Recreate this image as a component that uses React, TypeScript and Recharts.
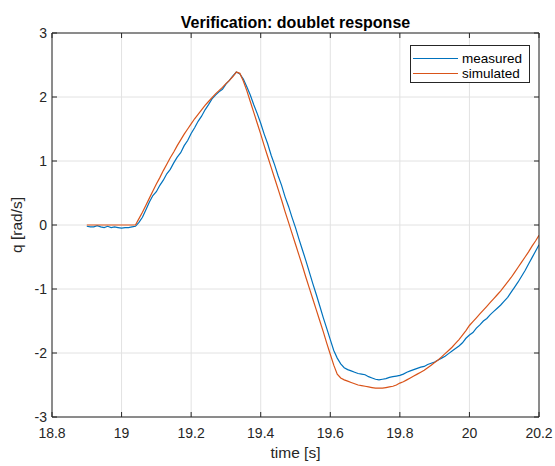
import React from "react";
import { LineChart, Line, XAxis, YAxis, CartesianGrid, Legend } from "recharts";

// sampling of both signals: 18.90 s .. 20.20 s, 0.01 s step
const T0 = 18.9;
const DT = 0.01;

// q [rad/s], one row per 0.1 s
const measured = [
  -0.02, -0.03, -0.03, -0.01, -0.03, -0.04, -0.02, -0.04, -0.03, -0.04,
  -0.05, -0.04, -0.04, -0.03, -0.02, 0.04, 0.12, 0.24, 0.36, 0.46,
  0.52, 0.62, 0.7, 0.8, 0.87, 0.97, 1.06, 1.13, 1.24, 1.32,
  1.43, 1.52, 1.62, 1.7, 1.8, 1.88, 1.97, 2.03, 2.08, 2.12,
  2.2, 2.26, 2.33, 2.39, 2.36, 2.28, 2.16, 2.03, 1.88, 1.74,
  1.59, 1.42, 1.27, 1.09, 0.94, 0.77, 0.62, 0.44, 0.29, 0.12,
  -0.04, -0.22, -0.39, -0.56, -0.74, -0.92, -1.09, -1.27, -1.45, -1.62,
  -1.79, -1.96, -2.08, -2.17, -2.23, -2.26, -2.28, -2.3, -2.32, -2.33,
  -2.34, -2.37, -2.39, -2.41, -2.42, -2.41, -2.4, -2.38, -2.37, -2.36,
  -2.35, -2.33, -2.3, -2.28, -2.26, -2.24, -2.22, -2.21, -2.18, -2.16,
  -2.14, -2.11, -2.08, -2.05, -2.01, -1.97, -1.93, -1.89, -1.84, -1.77,
  -1.72, -1.68, -1.61, -1.56, -1.5, -1.46, -1.4, -1.35, -1.3, -1.25,
  -1.19, -1.13, -1.05, -0.97, -0.89, -0.8, -0.71, -0.61, -0.51, -0.41,
  -0.31,
];

const simulated = [
  0, 0, 0, 0, 0, 0, 0, 0, 0, 0,
  0, 0, 0, 0, 0, 0.1, 0.2, 0.31, 0.42, 0.53,
  0.64, 0.74, 0.85, 0.95, 1.05, 1.14, 1.24, 1.33, 1.42, 1.5,
  1.58, 1.66, 1.73, 1.8, 1.87, 1.93, 1.99, 2.05, 2.1, 2.15,
  2.21, 2.26, 2.32, 2.39, 2.37, 2.25, 2.1, 1.93, 1.76, 1.59,
  1.42, 1.24, 1.07, 0.9, 0.73, 0.56, 0.39, 0.21, 0.04, -0.13,
  -0.3, -0.47, -0.64, -0.82, -0.99, -1.16, -1.33, -1.5, -1.67, -1.85,
  -2.02, -2.19, -2.33, -2.39, -2.42, -2.44, -2.46, -2.48, -2.5, -2.51,
  -2.52, -2.53, -2.54, -2.55, -2.55, -2.55, -2.54, -2.53, -2.52, -2.5,
  -2.47, -2.45, -2.42, -2.39, -2.36, -2.33, -2.3, -2.27, -2.23, -2.19,
  -2.15, -2.11, -2.06, -2.01, -1.96, -1.91, -1.85, -1.79, -1.72, -1.65,
  -1.57, -1.51, -1.45, -1.39, -1.33, -1.27, -1.21, -1.15, -1.09, -1.03,
  -0.96, -0.89, -0.82, -0.74, -0.66, -0.58, -0.5, -0.42, -0.33, -0.25,
  -0.16,
];

const xTicks = [18.8, 19, 19.2, 19.4, 19.6, 19.8, 20, 20.2];
const yTicks = [-3, -2, -1, 0, 1, 2, 3];

const data = measured.map((m, i) => ({
  t: Math.round((T0 + i * DT) * 100) / 100,
  measured: m,
  simulated: simulated[i],
}));

const W = 555;
const H = 466;
// plot box in pixels
const L = 52;
const R = 539;
const T = 33;
const B = 417;

const FONT = "'Liberation Sans', Arial, Helvetica, sans-serif";
const INK = "#262626";
const GRID = "#e2e2e2";
const TL = 5; // inward tick length

const BottomTick = ({ x, y, payload }: any) => (
  <g>
    <line x1={x} y1={y} x2={x} y2={y - TL} stroke={INK} />
    <text x={x} y={y + 21} textAnchor="middle" fontSize={14} fill={INK} fontFamily={FONT}>
      {payload.value}
    </text>
  </g>
);

const LeftTick = ({ x, y, payload }: any) => (
  <g>
    <line x1={x} y1={y} x2={x + TL} y2={y} stroke={INK} />
    <text x={x - 5} y={y + 5} textAnchor="end" fontSize={14} fill={INK} fontFamily={FONT}>
      {payload.value}
    </text>
  </g>
);

const TopTick = ({ x, y }: any) => <line x1={x} y1={y} x2={x} y2={y + TL} stroke={INK} />;
const RightTick = ({ x, y }: any) => <line x1={x} y1={y} x2={x - TL} y2={y} stroke={INK} />;

const titleLabel = () => (
  <text x={(L + R) / 2} y={28} textAnchor="middle" fontSize={16} fontWeight="bold" fill="#000" fontFamily={FONT}>
    Verification: doublet response
  </text>
);

const xLabel = () => (
  <text x={(L + R) / 2} y={458} textAnchor="middle" fontSize={15.5} fill={INK} fontFamily={FONT}>
    time [s]
  </text>
);

const yLabel = () => (
  <text
    x={22}
    y={(T + B) / 2}
    transform={`rotate(-90 22 ${(T + B) / 2})`}
    textAnchor="middle"
    fontSize={15.5}
    fill={INK}
    fontFamily={FONT}
  >
    q [rad/s]
  </text>
);

const renderLegend = ({ payload }: any) => (
  <div
    style={{
      width: 120,
      height: 38,
      boxSizing: "border-box",
      border: `1px solid ${INK}`,
      background: "#fff",
      padding: "5px 0 0 2px",
      fontFamily: FONT,
      fontSize: 13.5,
      color: "#000",
    }}
  >
    {(payload || []).map((p: any) => (
      <div key={p.value} style={{ display: "flex", alignItems: "center", height: 15, lineHeight: "15px" }}>
        <span style={{ display: "inline-block", width: 45, borderTop: `1px solid ${p.color}` }} />
        <span style={{ marginLeft: 4 }}>{p.value}</span>
      </div>
    ))}
  </div>
);

export default function App() {
  return (
    <div style={{ position: "absolute", left: 0, top: 0, width: W, height: H, background: "#fff" }}>
      <LineChart width={W} height={H} data={data} margin={{ top: T - 1, right: W - R - 1, bottom: 0, left: 0 }}>
        <CartesianGrid stroke={GRID} horizontalValues={yTicks} verticalValues={xTicks} />
        <XAxis
          dataKey="t"
          type="number"
          domain={[18.8, 20.2]}
          ticks={xTicks}
          allowDataOverflow
          height={H - B}
          tickSize={0}
          tickMargin={0}
          tick={<BottomTick />}
          axisLine={{ stroke: INK }}
          label={xLabel}
        />
        {/* mirrored axes close the box (MATLAB "box on") */}
        <XAxis
          xAxisId="top"
          orientation="top"
          dataKey="t"
          type="number"
          domain={[18.8, 20.2]}
          ticks={xTicks}
          allowDataOverflow
          height={1}
          tickSize={0}
          tickMargin={0}
          tick={<TopTick />}
          axisLine={{ stroke: INK }}
          label={titleLabel}
        />
        <YAxis
          type="number"
          domain={[-3, 3]}
          ticks={yTicks}
          allowDataOverflow
          width={L}
          tickSize={0}
          tickMargin={0}
          tick={<LeftTick />}
          axisLine={{ stroke: INK }}
          label={yLabel}
        />
        <YAxis
          yAxisId="right"
          orientation="right"
          type="number"
          domain={[-3, 3]}
          ticks={yTicks}
          allowDataOverflow
          width={1}
          tickSize={0}
          tickMargin={0}
          tick={<RightTick />}
          axisLine={{ stroke: INK }}
        />
        <Legend
          layout="horizontal"
          verticalAlign="middle"
          align="center"
          wrapperStyle={{ left: 410, top: 45, width: 120, height: 38 }}
          content={renderLegend}
        />
        <Line
          type="linear"
          dataKey="measured"
          name="measured"
          stroke="#0072BD"
          strokeWidth={1.2}
          dot={false}
          isAnimationActive={false}
        />
        {/* same scales as the bottom/left pair, bound to the mirrored axes */}
        <Line
          type="linear"
          dataKey="simulated"
          name="simulated"
          xAxisId="top"
          yAxisId="right"
          stroke="#D95319"
          strokeWidth={1.2}
          dot={false}
          isAnimationActive={false}
        />
      </LineChart>
    </div>
  );
}
